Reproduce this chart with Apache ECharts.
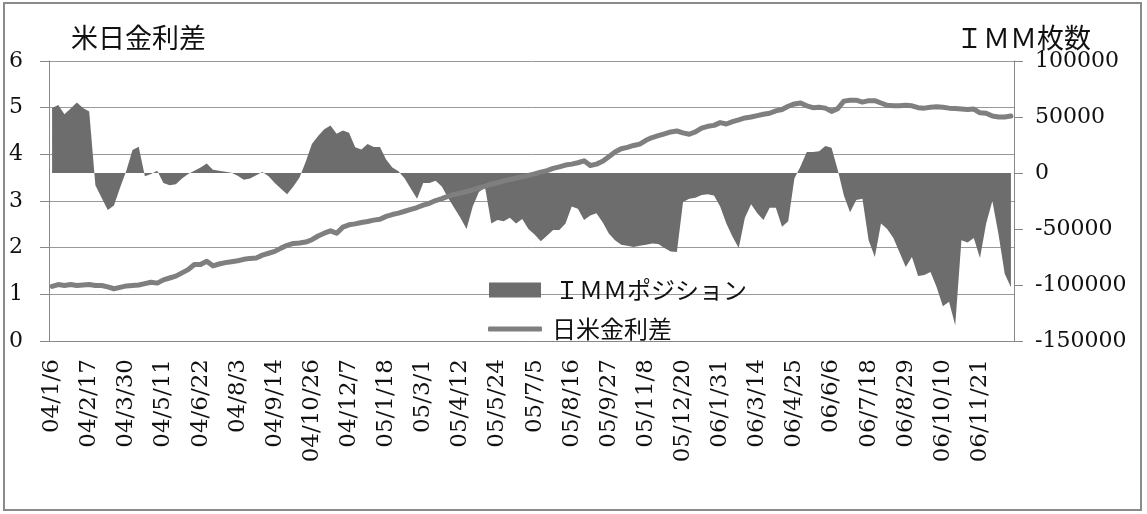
<!DOCTYPE html>
<html>
<head>
<meta charset="utf-8">
<script src="https://cdn.jsdelivr.net/npm/echarts@6/dist/echarts.min.js"></script>
<style>
  html, body { margin: 0; padding: 0; background: #fff; }
  #chart { width: 1147px; height: 514px; }
</style>
</head>
<body>
<div id="chart"></div>
<script>
// Weekly observation dates (yy/m/d)
const categories = [
  '04/1/6','04/1/13','04/1/20','04/1/27','04/2/3','04/2/10','04/2/17','04/2/24',
  '04/3/2','04/3/9','04/3/16','04/3/23','04/3/30','04/4/6','04/4/13','04/4/20','04/4/27',
  '04/5/4','04/5/11','04/5/18','04/5/25','04/6/1','04/6/8','04/6/15','04/6/22','04/6/29',
  '04/7/6','04/7/13','04/7/20','04/7/27','04/8/3','04/8/10','04/8/17','04/8/24','04/8/31',
  '04/9/7','04/9/14','04/9/21','04/9/28','04/10/5','04/10/12','04/10/19','04/10/26',
  '04/11/2','04/11/9','04/11/16','04/11/23','04/11/30','04/12/7','04/12/14','04/12/21','04/12/28',
  '05/1/4','05/1/11','05/1/18','05/1/25','05/2/1','05/2/8','05/2/15','05/2/22',
  '05/3/1','05/3/8','05/3/15','05/3/22','05/3/29','05/4/5','05/4/12','05/4/19','05/4/26',
  '05/5/3','05/5/10','05/5/17','05/5/24','05/5/31','05/6/7','05/6/14','05/6/21','05/6/28',
  '05/7/5','05/7/12','05/7/19','05/7/26','05/8/2','05/8/9','05/8/16','05/8/23','05/8/30',
  '05/9/6','05/9/13','05/9/20','05/9/27','05/10/4','05/10/11','05/10/18','05/10/25',
  '05/11/1','05/11/8','05/11/15','05/11/22','05/11/29','05/12/6','05/12/13','05/12/20','05/12/27',
  '06/1/3','06/1/10','06/1/17','06/1/24','06/1/31','06/2/7','06/2/14','06/2/21','06/2/28',
  '06/3/7','06/3/14','06/3/21','06/3/28','06/4/4','06/4/11','06/4/18','06/4/25',
  '06/5/2','06/5/9','06/5/16','06/5/23','06/5/30','06/6/6','06/6/13','06/6/20','06/6/27',
  '06/7/4','06/7/11','06/7/18','06/7/25','06/8/1','06/8/8','06/8/15','06/8/22','06/8/29',
  '06/9/5','06/9/12','06/9/19','06/9/26','06/10/3','06/10/10','06/10/17','06/10/24','06/10/31',
  '06/11/7','06/11/14','06/11/21','06/11/28','06/12/5','06/12/12','06/12/19','06/12/26'
];

// US-Japan interest rate differential (%), left axis
const rateSpread = [
  1.17,1.21,1.19,1.21,1.19,1.20,1.21,1.19,1.19,1.16,
  1.12,1.15,1.18,1.19,1.20,1.23,1.26,1.24,1.31,1.35,
  1.39,1.46,1.53,1.64,1.64,1.71,1.61,1.65,1.68,1.70,
  1.72,1.75,1.77,1.78,1.84,1.88,1.92,1.99,2.05,2.09,
  2.10,2.12,2.17,2.25,2.31,2.36,2.31,2.44,2.49,2.51,
  2.54,2.56,2.59,2.61,2.67,2.71,2.74,2.78,2.82,2.86,
  2.91,2.95,3.01,3.05,3.10,3.14,3.17,3.20,3.24,3.28,
  3.32,3.36,3.39,3.43,3.46,3.49,3.52,3.55,3.58,3.62,
  3.65,3.70,3.73,3.77,3.79,3.82,3.86,3.76,3.79,3.85,
  3.95,4.05,4.12,4.15,4.19,4.22,4.30,4.36,4.40,4.44,
  4.48,4.50,4.46,4.43,4.48,4.56,4.60,4.62,4.68,4.65,
  4.70,4.74,4.78,4.80,4.83,4.86,4.88,4.93,4.96,5.03,
  5.08,5.10,5.04,5.00,5.01,4.99,4.92,4.98,5.14,5.16,
  5.16,5.12,5.15,5.15,5.10,5.05,5.04,5.04,5.05,5.04,
  5.00,4.99,5.01,5.02,5.01,4.99,4.98,4.97,4.96,4.97,
  4.89,4.88,4.82,4.80,4.80,4.82
];

// IMM yen net position (contracts), right axis
const immPosition = [
  58000,60700,52500,57500,63000,58000,55000,-11000,-22000,-33000,
  -29000,-13000,2000,20500,23500,-3000,-1000,2000,-9000,-11000,
  -10000,-5000,-1000,2000,5000,8500,3000,2000,1200,300,
  -2500,-6000,-5000,-2000,900,-3000,-9000,-14000,-19000,-12000,
  -4000,10000,26000,33000,39000,42500,35000,38000,36000,23000,
  21000,26000,23200,23200,12000,5000,1500,-5000,-14000,-23000,
  -9000,-9000,-7000,-12000,-22000,-31000,-40000,-50000,-30000,-17000,
  -13000,-45000,-42000,-43000,-40000,-45000,-41000,-50000,-55000,-61000,
  -56000,-51000,-51000,-45000,-30000,-32000,-42000,-38000,-36000,-44000,
  -54000,-60000,-64000,-65000,-66000,-65000,-64000,-63000,-63500,-67000,
  -70000,-70500,-26000,-23000,-22000,-19600,-19000,-20000,-30000,-45000,
  -57000,-67000,-40000,-28000,-36000,-42000,-31000,-31000,-48000,-43000,
  -5000,6000,18800,18800,19500,24000,22500,3000,-20000,-35000,
  -24000,-23000,-60000,-75000,-45000,-50000,-58000,-71000,-84000,-75000,
  -92000,-91000,-88500,-102000,-119000,-115000,-136000,-60000,-62000,-58000,
  -76000,-45000,-25000,-55000,-90000,-102000
];

const serif = 'DejaVu Serif, Liberation Serif, serif';
const cjk = '"Noto Sans CJK JP", "Noto Sans CJK SC", sans-serif';

const chart = echarts.init(document.getElementById('chart'), null, { renderer: 'canvas' });

chart.setOption({
  animation: false,
  backgroundColor: '#fff',
  graphic: [{
    type: 'rect',
    shape: { x: 4, y: 3, width: 1137, height: 507 },
    style: { fill: 'none', stroke: '#8a8a8a', lineWidth: 2 },
    silent: true,
    z: -10
  }],
  title: [
    { text: '米日金利差', left: 66, top: 19,
      textStyle: { fontFamily: cjk, fontSize: 27, fontWeight: 'normal', color: '#111' } },
    { text: 'ＩＭＭ枚数', left: 951, top: 19,
      textStyle: { fontFamily: cjk, fontSize: 27, fontWeight: 'normal', color: '#111' } }
  ],
  legend: [
    { data: ['ＩＭＭポジション'], left: 484, top: 273, icon: 'rect',
      itemWidth: 52, itemHeight: 15, selectedMode: false,
      textStyle: { fontFamily: cjk, fontSize: 24, color: '#111', padding: [0, 0, 0, 9] } },
    { data: ['日米金利差'], left: 483, top: 312, icon: 'roundRect',
      itemWidth: 54, itemHeight: 5, selectedMode: false,
      itemStyle: { color: '#7f7f7f', borderWidth: 0 },
      textStyle: { fontFamily: cjk, fontSize: 24, color: '#111', padding: [0, 0, 0, 5] } }
  ],
  grid: { left: 49, right: 133, top: 61, bottom: 173, containLabel: false, outerBoundsMode: 'none' },
  xAxis: {
    type: 'category',
    data: categories,
    boundaryGap: true,
    axisLine: { lineStyle: { color: '#888', width: 1 } },
    axisTick: { show: false },
    axisLabel: {
      interval: 5, rotate: 90, margin: 18,
      fontFamily: serif, fontSize: 23, color: '#111'
    },
    splitLine: { show: false }
  },
  yAxis: [
    {
      type: 'value', position: 'left', min: 0, max: 6, interval: 1,
      axisLine: { show: true, lineStyle: { color: '#888', width: 1 } },
      axisTick: { show: true, length: 9, lineStyle: { color: '#888' } },
      axisLabel: { margin: 26, fontFamily: serif, fontSize: 22, color: '#111' },
      splitLine: { show: true, lineStyle: { color: '#999', width: 1 } }
    },
    {
      type: 'value', position: 'right', min: -150000, max: 100000, interval: 50000,
      axisLine: { show: true, lineStyle: { color: '#888', width: 1 } },
      axisTick: { show: true, length: 9, lineStyle: { color: '#888' } },
      axisLabel: { margin: 21, fontFamily: serif, fontSize: 22, color: '#111',
        formatter: v => String(v) },
      splitLine: { show: false }
    }
  ],
  series: [
    {
      name: 'ＩＭＭポジション',
      type: 'line',
      yAxisIndex: 1,
      data: immPosition,
      color: '#6d6d6d',
      symbol: 'none',
      lineStyle: { width: 0 },
      areaStyle: { color: '#6d6d6d', opacity: 1, origin: 0 },
      z: 2
    },
    {
      name: '日米金利差',
      type: 'line',
      yAxisIndex: 0,
      data: rateSpread,
      color: '#7f7f7f',
      symbol: 'none',
      lineStyle: { width: 5, color: '#7f7f7f', cap: 'round', join: 'round' },
      z: 3
    }
  ]
});
</script>
</body>
</html>
